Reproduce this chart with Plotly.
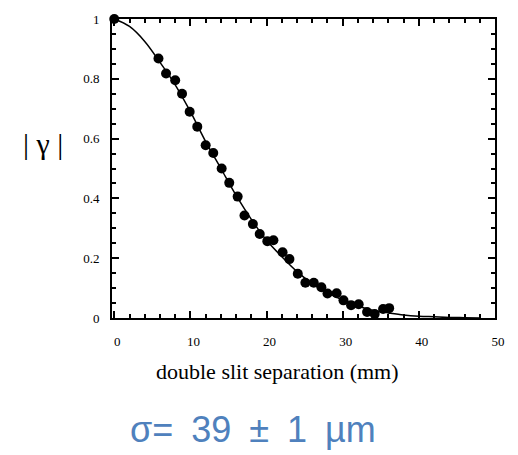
import plotly.graph_objects as go

# measured points (double slit separation in mm, |gamma|)
sep_mm = [0.0, 5.8, 6.8, 8.0, 8.9, 9.9, 10.9, 12.0, 13.0, 14.1, 15.1, 16.2, 17.1,
          18.2, 19.1, 20.1, 20.9, 22.1, 23.0, 24.1, 25.1, 26.2, 27.2, 28.0, 29.2,
          30.1, 31.1, 32.1, 33.2, 34.2, 35.3, 36.1]
gamma_abs = [1.0, 0.868, 0.818, 0.795, 0.75, 0.69, 0.64, 0.578, 0.552, 0.50, 0.452,
             0.406, 0.343, 0.314, 0.281, 0.257, 0.26, 0.22, 0.197, 0.148, 0.118,
             0.118, 0.103, 0.082, 0.083, 0.059, 0.043, 0.046, 0.02, 0.013, 0.03, 0.033]

# fitted curve
fit_x = [0, 2, 4, 6, 8, 10, 12, 14, 16, 18, 20, 22, 24, 26, 28, 30, 32, 34, 36, 38,
         40, 42, 44, 46, 48]
fit_y = [1.0, 0.975, 0.925, 0.855, 0.78, 0.69, 0.59, 0.50, 0.41, 0.33, 0.26, 0.205,
         0.155, 0.115, 0.085, 0.06, 0.04, 0.025, 0.017, 0.01, 0.006, 0.004, 0.002,
         0.001, 0.0]

x_ticks = [0, 10, 20, 30, 40, 50]
y_ticks = [0, 0.2, 0.4, 0.6, 0.8, 1]
y_tick_text = ["0", "0.2", "0.4", "0.6", "0.8", "1"]

serif = "Liberation Serif, Times New Roman, serif"

fig = go.Figure()
fig.add_trace(go.Scatter(x=fit_x, y=fit_y, mode="lines",
                         line=dict(color="black", width=1.5, shape="spline"),
                         cliponaxis=False, hoverinfo="skip"))
fig.add_trace(go.Scatter(x=sep_mm, y=gamma_abs, mode="markers",
                         marker=dict(color="black", size=10),
                         cliponaxis=False))

axis_common = dict(showline=True, linecolor="black", linewidth=2, mirror="ticks",
                   ticks="inside", tickcolor="black", tickwidth=1.5, ticklen=7,
                   showgrid=False, zeroline=False,
                   tickfont=dict(family=serif, size=13, color="black"))

fig.update_xaxes(range=[-0.3, 50.0], tickvals=x_ticks, ticklabelshift=3,
                 ticklabelstandoff=10,
                 minor=dict(dtick=2, ticks="inside", ticklen=4, tickcolor="black",
                            tickwidth=1.5, showgrid=False),
                 **axis_common)
fig.update_yaxes(range=[0, 1], tickvals=y_ticks, ticktext=y_tick_text,
                 ticklabelstandoff=8,
                 minor=dict(dtick=0.05, ticks="inside", ticklen=4, tickcolor="black",
                            tickwidth=1.5, showgrid=False),
                 **axis_common)

fig.update_layout(
    width=518, height=455,
    margin=dict(l=112, r=23, t=15, b=137),
    paper_bgcolor="white", plot_bgcolor="white",
    showlegend=False,
    annotations=[
        dict(text="double slit separation (mm)", xref="paper", yref="paper",
             x=(277 - 112) / 383, y=-(372 - 318) / 303, showarrow=False,
             xanchor="center", yanchor="middle",
             font=dict(family=serif, size=22, color="black")),
        dict(text="| γ |", xref="paper", yref="paper",
             x=-(112 - 43) / 383, y=(318 - 141) / 303, showarrow=False,
             xanchor="center", yanchor="middle",
             font=dict(family=serif, size=30, color="black")),
        dict(text="σ=\u200239\u2002±\u20021\u2002µm", xref="paper", yref="paper",
             x=(253 - 112) / 383, y=-(431 - 318) / 303, showarrow=False,
             xanchor="center", yanchor="middle",
             font=dict(family="Liberation Sans, Arial, sans-serif", size=36,
                       color="#4f81bd")),
    ],
)

fig.write_html("out.html")
